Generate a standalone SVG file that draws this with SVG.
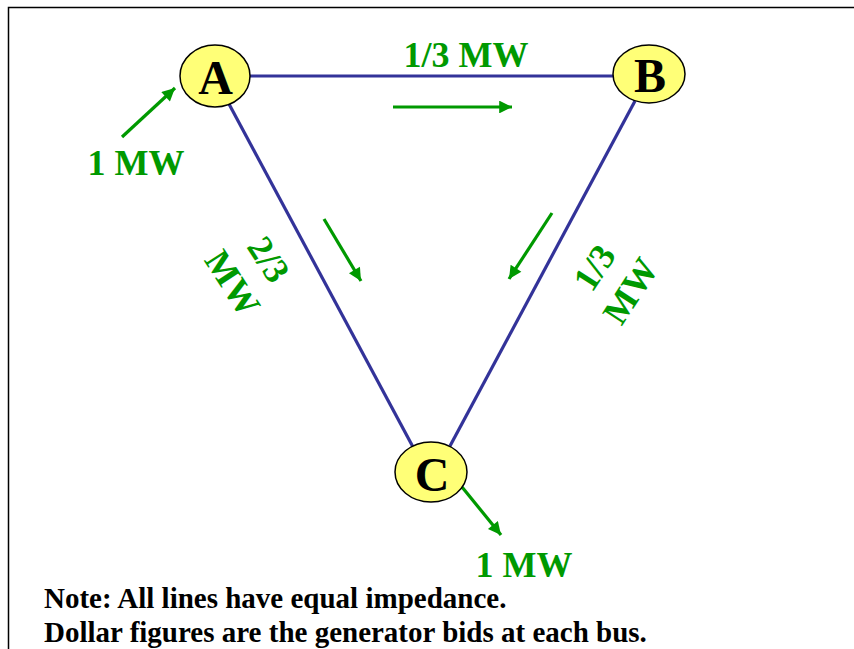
<svg xmlns="http://www.w3.org/2000/svg" width="854" height="649" viewBox="0 0 854 649">
<style>
.frame{fill:none;stroke:#000;stroke-width:1.5}
.line{stroke:#333399;stroke-width:3.2;fill:none}
.flow{stroke:#009900;stroke-width:3.2;fill:none}
.bus{fill:#ffff77;stroke:#000;stroke-width:1.5}
.busl{font-family:"Liberation Serif",serif;font-weight:bold;font-size:48px;text-anchor:middle;fill:#000}
.mw{font-family:"Liberation Serif",serif;font-weight:bold;font-size:36px;text-anchor:middle;fill:#009900}
.note{font-family:"Liberation Serif",serif;font-weight:bold;font-size:29px;fill:#000}
</style>
<defs>
<marker id="ah" viewBox="0 0 10 10" refX="10" refY="5" markerWidth="4.6" markerHeight="4" orient="auto" markerUnits="strokeWidth">
<path d="M0,0 L10,5 L0,10 z" fill="#009900"/>
</marker>
</defs>
<rect width="854" height="649" fill="#fff"/>
<path class="frame" d="M8.5,649 V7.5 H854"/>
<g id="connectors">
<line class="line" x1="250" y1="76" x2="613" y2="76"/>
<line class="line" x1="229" y1="104" x2="413" y2="447"/>
<line class="line" x1="635" y1="101" x2="450" y2="446"/>
<line class="flow" x1="122" y1="137" x2="175" y2="88" marker-end="url(#ah)"/>
<line class="flow" x1="393" y1="107" x2="512" y2="107" marker-end="url(#ah)"/>
<line class="flow" x1="324" y1="219" x2="361" y2="281" marker-end="url(#ah)"/>
<line class="flow" x1="552" y1="213" x2="509" y2="279" marker-end="url(#ah)"/>
<line class="flow" x1="462" y1="487" x2="501" y2="535" marker-end="url(#ah)"/>
</g>
<g id="labels">
<text class="mw" x="466" y="67">1/3 MW</text>
<text class="mw" x="136" y="175">1 MW</text>
<text class="mw" x="524" y="577">1 MW</text>
<g transform="translate(251,271) rotate(57)">
<text class="mw" x="0" y="-9">2/3</text>
<text class="mw" x="0" y="34">MW</text>
</g>
<g transform="translate(612,279) rotate(-57)">
<text class="mw" x="0" y="-9">1/3</text>
<text class="mw" x="0" y="34">MW</text>
</g>
</g>
<g id="node-A">
<ellipse class="bus" cx="215" cy="76" rx="35" ry="31"/>
<text class="busl" x="215.5" y="94">A</text>
</g>
<g id="node-B">
<ellipse class="bus" cx="649" cy="74" rx="36" ry="29"/>
<text class="busl" x="650" y="92">B</text>
</g>
<g id="node-C">
<ellipse class="bus" cx="431" cy="472" rx="36" ry="30"/>
<text class="busl" x="432" y="491">C</text>
</g>
<g id="notes">
<text class="note" x="44" y="608">Note: All lines have equal impedance.</text>
<text class="note" x="44" y="642">Dollar figures are the generator bids at each bus.</text>
</g>
</svg>
